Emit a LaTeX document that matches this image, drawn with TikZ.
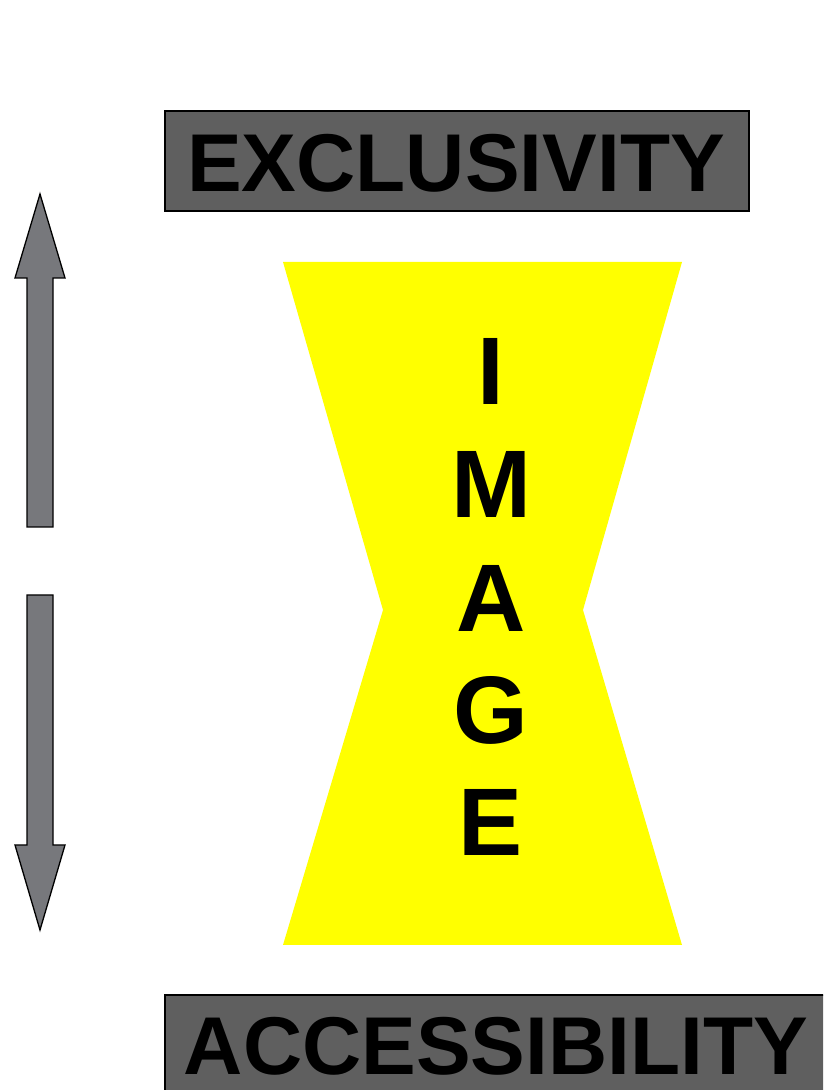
\documentclass[tikz,border=0pt]{standalone}
\usepackage{fontspec}
\setmainfont{Liberation Sans}
\definecolor{boxgray}{HTML}{5F5F5F}
\definecolor{arrowgray}{HTML}{77787C}
\definecolor{hgyellow}{HTML}{FFFF00}
\tikzset{
  labelbox/.style={draw=black, line width=1.6pt, fill=boxgray},
  bigword/.style={inner sep=0pt, anchor=base, font=\bfseries\fontsize{82}{82}\selectfont},
  letter/.style={inner sep=0pt, anchor=base, font=\bfseries\fontsize{96}{96}\selectfont},
  bigarrow/.style={draw=black, line width=1.3pt, fill=arrowgray, line join=miter}
}
\begin{document}
\begin{tikzpicture}[x=1pt,y=1pt]
\useasboundingbox (0,0) rectangle (823,1090);
\clip (0,0) rectangle (823,1090);
% top box
\draw[labelbox] (165,879) rectangle (749,979);
\node[bigword] (excl) at (456,898) {EXCLUSIVITY};
% bottom box (runs off the page)
\draw[labelbox] (165,95) rectangle (900,-30);
\node[bigword] (acc) at (496,16) {ACCESSIBILITY};
% hourglass
\fill[hgyellow] (283,828) -- (682,828) -- (583,480) -- (682,145) -- (283,145) -- (383,480) -- cycle;
% letters
\node[letter] (l1) at (491,685) {I};
\node[letter] (l2) at (491,572) {M};
\node[letter] (l3) at (491,458) {A};
\node[letter] (l4) at (491,346) {G};
\node[letter] (l5) at (491,234) {E};
% arrows
\draw[bigarrow] (27,563) -- (27,812) -- (15,812) -- (40,896) -- (65,812) -- (53,812) -- (53,563) -- cycle;
\draw[bigarrow] (27,495) -- (27,245) -- (15,245) -- (40,160) -- (65,245) -- (53,245) -- (53,495) -- cycle;
\end{tikzpicture}
\end{document}
